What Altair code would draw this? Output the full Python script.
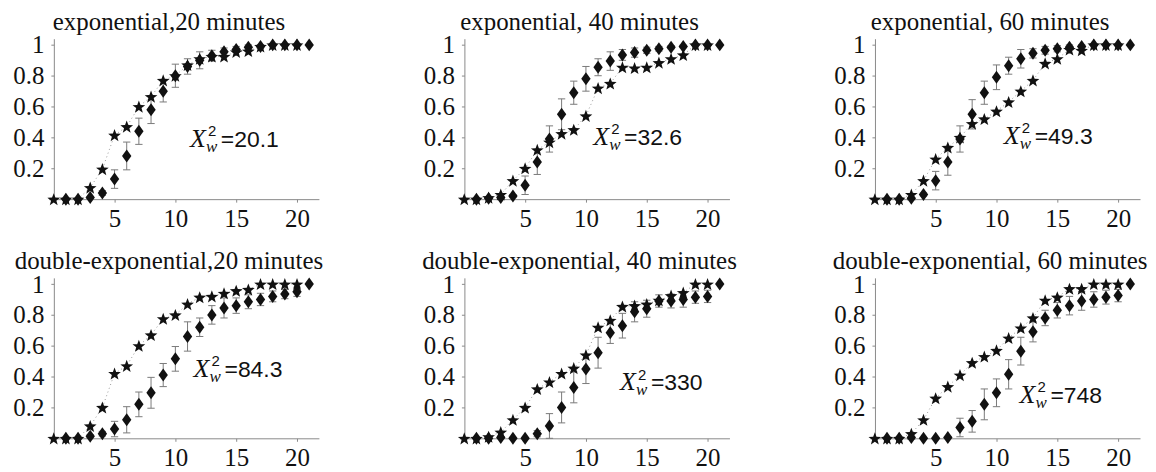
import math
import altair as alt

TITLES = ["exponential,20 minutes", "exponential, 40 minutes", "exponential, 60 minutes",
          "double-exponential,20 minutes", "double-exponential, 40 minutes",
          "double-exponential, 60 minutes"]
CHI_TEXT = ["=20.1", "=32.6", "=49.3", "=84.3", "=330", "=748"]
LABEL_X = [11.2, 10.6, 10.6, 11.5, 12.8, 11.9]
LABEL_Y = [0.34, 0.35, 0.355, 0.40, 0.31, 0.23]

STAR_X = list(range(0, 21))
DIAMOND_X = list(range(1, 22))

STARS = [
    [0, 0, 0, 0.075, 0.195, 0.415, 0.47, 0.60, 0.665, 0.77, 0.80, 0.87, 0.91, 0.925, 0.925, 0.955, 0.96, 0.99, 1.0, 1.0, 1.0],
    [0, 0, 0.01, 0.03, 0.12, 0.20, 0.32, 0.37, 0.425, 0.45, 0.54, 0.72, 0.75, 0.855, 0.85, 0.855, 0.885, 0.91, 0.935, 1.0, 1.0],
    [0, 0, 0, 0.03, 0.12, 0.26, 0.335, 0.40, 0.49, 0.52, 0.57, 0.63, 0.70, 0.77, 0.88, 0.91, 0.97, 0.965, 1.0, 1.0, 1.0],
    [0, 0, 0, 0.08, 0.20, 0.42, 0.47, 0.60, 0.67, 0.775, 0.80, 0.87, 0.915, 0.92, 0.94, 0.957, 0.965, 1.0, 1.0, 1.0, 1.0],
    [0, 0, 0.01, 0.04, 0.12, 0.20, 0.32, 0.365, 0.42, 0.455, 0.54, 0.72, 0.765, 0.855, 0.86, 0.87, 0.895, 0.925, 0.945, 1.0, 1.0],
    [0, 0, 0, 0.03, 0.12, 0.26, 0.335, 0.41, 0.49, 0.53, 0.57, 0.65, 0.715, 0.78, 0.895, 0.915, 0.97, 0.97, 1.0, 1.0, 1.0],
]
DIAMONDS = [
    [0, 0, 0.01, 0.04, 0.13, 0.28, 0.44, 0.58, 0.70, 0.80, 0.86, 0.90, 0.93, 0.955, 0.97, 0.985, 0.99, 1.0, 1.0, 1.0, 1.0],
    [0, 0.005, 0.01, 0.02, 0.09, 0.24, 0.39, 0.55, 0.69, 0.78, 0.855, 0.895, 0.935, 0.95, 0.965, 0.975, 0.985, 0.99, 1.0, 1.0, 1.0],
    [0, 0, 0.005, 0.03, 0.12, 0.24, 0.39, 0.55, 0.69, 0.79, 0.865, 0.91, 0.945, 0.965, 0.975, 0.985, 0.99, 1.0, 1.0, 1.0, 1.0],
    [0, 0, 0.013, 0.03, 0.06, 0.12, 0.22, 0.295, 0.41, 0.515, 0.66, 0.72, 0.80, 0.845, 0.86, 0.885, 0.90, 0.92, 0.935, 0.95, 1.0],
    [0, 0, 0.005, 0, 0, 0.03, 0.08, 0.20, 0.33, 0.45, 0.555, 0.685, 0.73, 0.82, 0.84, 0.89, 0.89, 0.90, 0.915, 0.92, 1.0],
    [0, 0, 0.005, 0, 0, 0.005, 0.07, 0.11, 0.22, 0.295, 0.415, 0.565, 0.69, 0.78, 0.83, 0.86, 0.89, 0.90, 0.915, 0.925, 1.0],
]
ERRS = [
    [0, 0, 0.005, 0.015, 0.06, 0.09, 0.085, 0.09, 0.07, 0.075, 0.05, 0.055, 0.035, 0.025, 0.02, 0.015, 0.01, 0.005, 0.003, 0.002, 0],
    [0, 0.003, 0.005, 0.01, 0.06, 0.08, 0.085, 0.10, 0.075, 0.08, 0.055, 0.06, 0.035, 0.03, 0.02, 0.015, 0.01, 0.008, 0.005, 0.003, 0],
    [0, 0, 0.003, 0.01, 0.06, 0.085, 0.085, 0.095, 0.075, 0.08, 0.055, 0.06, 0.03, 0.025, 0.02, 0.015, 0.01, 0.005, 0.003, 0.002, 0],
    [0, 0, 0.01, 0.015, 0.05, 0.085, 0.08, 0.10, 0.075, 0.08, 0.095, 0.06, 0.06, 0.065, 0.05, 0.045, 0.04, 0.035, 0.03, 0.03, 0],
    [0, 0, 0.005, 0, 0, 0.02, 0.08, 0.10, 0.10, 0.095, 0.10, 0.07, 0.08, 0.065, 0.055, 0.04, 0.045, 0.05, 0.04, 0.04, 0],
    [0, 0, 0.003, 0, 0, 0.005, 0.06, 0.07, 0.10, 0.09, 0.095, 0.09, 0.065, 0.05, 0.05, 0.06, 0.06, 0.05, 0.045, 0.04, 0],
]
CAP_HALF = 0.3

X_TICKS = [5, 10, 15, 20]
Y_TICKS = [0.2, 0.4, 0.6, 0.8, 1.0]

INK = "#111111"
AXIS_GRAY = "#8a8a8a"
BAR_GRAY = "#7a7a7a"
SERIF = "Liberation Serif"
SANS = "Liberation Sans"

# marker outlines (custom SVG paths in the unit box)
DIAMOND = "M0,-1L0.72,0L0,1L-0.72,0Z"
_pts = []
for k in range(10):
    r = 1.0 if k % 2 == 0 else 0.42
    a = math.radians(-90 + 36 * k)
    _pts.append(f"{r * math.cos(a):.3f},{r * math.sin(a) + 0.1:.3f}")
STAR = "M" + "L".join(_pts) + "Z"


def panel(i):
    star_rows = [{"px": float(a), "py": float(b)} for a, b in zip(STAR_X, STARS[i])]
    dia_rows = [{"px": float(a), "py": float(b)} for a, b in zip(DIAMOND_X, DIAMONDS[i])]
    bar_rows = [{"px": float(a), "lo": b - e, "hi": b + e}
                for a, b, e in zip(DIAMOND_X, DIAMONDS[i], ERRS[i]) if e > 0]
    cap_rows = []
    for r in bar_rows:
        for v in (r["lo"], r["hi"]):
            cap_rows.append({"xa": r["px"] - CAP_HALF, "xb": r["px"] + CAP_HALF, "py": v})
    lab_rows = [{"px": LABEL_X[i], "py": LABEL_Y[i], "t": CHI_TEXT[i],
                 "big": "X", "sub": "w", "sup": "2"}]

    xs = alt.Scale(domain=[-0.4, 21.8], nice=False, zero=False)
    ys = alt.Scale(domain=[0, 1.04], nice=False, zero=False)
    xax = alt.Axis(values=X_TICKS, tickSize=3, labelPadding=4, grid=False, title="",
                   labelFont=SERIF, labelFontSize=25, labelColor=INK,
                   domainColor=AXIS_GRAY, tickColor=AXIS_GRAY)
    yax = alt.Axis(values=Y_TICKS, format=".1~f", tickSize=3, labelPadding=7,
                   offset=-5, grid=False, title="",
                   labelFont=SERIF, labelFontSize=25, labelColor=INK,
                   domainColor=AXIS_GRAY, tickColor=AXIS_GRAY)
    X = alt.X("px:Q", scale=xs, axis=xax)
    Y = alt.Y("py:Q", scale=ys, axis=yax)

    line = alt.Chart(alt.Data(values=star_rows)).mark_line(
        color="#9a9a9a", strokeWidth=1, strokeDash=[1, 3]).encode(x=X, y=Y)
    bars = alt.Chart(alt.Data(values=bar_rows)).mark_rule(
        color=BAR_GRAY, strokeWidth=1).encode(
        x=X, y=alt.Y("lo:Q", scale=ys, axis=yax), y2=alt.Y2("hi:Q"))
    capm = alt.Chart(alt.Data(values=cap_rows)).mark_rule(
        color=BAR_GRAY, strokeWidth=1).encode(
        x=alt.X("xa:Q", scale=xs, axis=xax), x2=alt.X2("xb:Q"), y=Y)
    stars = alt.Chart(alt.Data(values=star_rows)).mark_point(
        shape=STAR, filled=True, color=INK, size=180, opacity=1).encode(x=X, y=Y)
    dia = alt.Chart(alt.Data(values=dia_rows)).mark_point(
        shape=DIAMOND, filled=True, color=INK, size=170, opacity=1).encode(x=X, y=Y)

    labsrc = alt.Data(values=lab_rows)
    t_x = alt.Chart(labsrc).mark_text(align="left", baseline="alphabetic",
                                      font=SERIF, fontStyle="italic",
                                      fontSize=26, color=INK).encode(x=X, y=Y, text="big:N")
    t_w = alt.Chart(labsrc).mark_text(align="left", baseline="alphabetic",
                                      font=SERIF, fontStyle="italic",
                                      fontSize=17, color=INK, dx=16, dy=5).encode(x=X, y=Y, text="sub:N")
    t_2 = alt.Chart(labsrc).mark_text(align="left", baseline="alphabetic",
                                      font=SANS, fontSize=15, color=INK,
                                      dx=18, dy=-11).encode(x=X, y=Y, text="sup:N")
    t_v = alt.Chart(labsrc).mark_text(align="left", baseline="alphabetic",
                                      font=SANS, fontSize=23, color=INK,
                                      dx=31).encode(x=X, y=Y, text="t:N")

    return alt.layer(line, bars, capm, stars, dia, t_x, t_w, t_2, t_v).properties(
        width=271, height=161,
        title=alt.TitleParams(text=TITLES[i], anchor="middle", dx=-15, dy=26,
                              offset=4, baseline="alphabetic", font=SERIF,
                              fontSize=25, fontWeight="normal", color=INK))


chart = alt.concat(*[panel(i) for i in range(6)], columns=3,
                   spacing={"row": 79, "column": 141}, bounds="flush").properties(
    padding={"left": 4, "top": 0, "right": 0, "bottom": 0}
).configure_view(stroke="transparent").configure_axis(
    domainColor=AXIS_GRAY, tickColor=AXIS_GRAY, labelFont=SERIF,
    labelFontSize=25, labelColor=INK).configure_title(
    font=SERIF, fontSize=25, fontWeight="normal", color=INK)

chart.save("out.html", embed_options={"renderer": "svg", "actions": False})
